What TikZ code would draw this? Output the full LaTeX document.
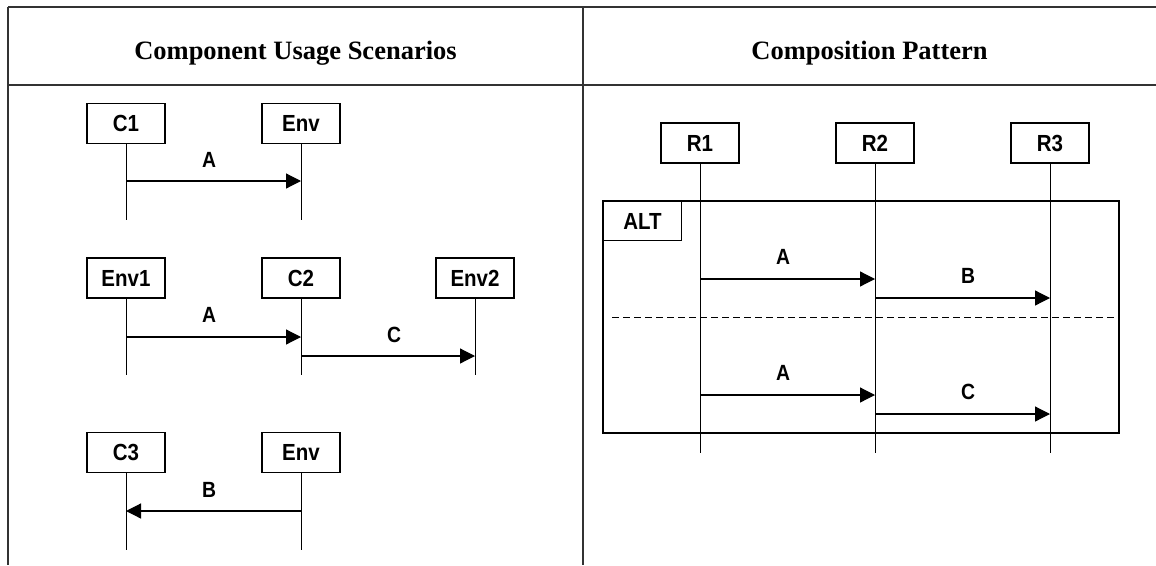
\documentclass[tikz,border=0pt]{standalone}
\usepackage{fontspec}
\setmainfont{Liberation Serif}
\newfontfamily\narrowfont[FakeStretch=0.88]{Liberation Sans}
\usetikzlibrary{arrows.meta}

\begin{document}
\begin{tikzpicture}[x=1pt, y=-1pt, >={Triangle[length=15pt, width=15pt]},
  rule/.style={black!80, line width=2pt},
  coltitle/.style={font=\fontsize{26.5}{28}\selectfont\bfseries, inner sep=0pt},
  box/.style={draw, line width=1.1pt, minimum width=78pt, minimum height=40pt,
    inner sep=0pt, font=\narrowfont\bfseries\fontsize{23.3}{25}\selectfont},
  lbl/.style={anchor=base, inner sep=0pt, font=\narrowfont\bfseries\fontsize{22}{24}\selectfont},
  life/.style={line width=0.9pt},
  msg/.style={->, line width=1.2pt}]
  \useasboundingbox (0,0) rectangle (1156,565);
  % table frame
  \draw[rule] (8,7) -- (1156,7);
  \draw[rule] (8,85) -- (1156,85);
  \draw[rule] (8,7) -- (8,565);
  \draw[rule] (583,7) -- (583,565);
  \node[coltitle, anchor=base] (tleft) at (295.5,59) {Component Usage Scenarios};
  \node[coltitle, anchor=base] (tright) at (869.5,59) {Composition Pattern};
  % scenario 1
  \node[box] (c1) at (126,123.5) {C1};
  \node[box] (env1) at (301,123.5) {Env};
  % scenario 2
  \node[box] (envA) at (126,278) {Env1};
  \node[box] (c2) at (301,278) {C2};
  \node[box] (envB) at (475,278) {Env2};
  % scenario 3
  \node[box] (c3) at (126,452.5) {C3};
  \node[box] (env3) at (301,452.5) {Env};
  % roles of the pattern
  \node[box] (r1) at (700,143) {R1};
  \node[box] (r2) at (875,143) {R2};
  \node[box] (r3) at (1050,143) {R3};
  % lifelines
  \foreach \n/\e in {c1/220, env1/220, envA/375, c2/375, envB/375,
                     c3/550, env3/550, r1/453, r2/453, r3/453}{
    \draw[life] (\n.south) -- (\n.south |- 0,\e);
  }
  % messages, left column
  \draw[msg] (c1 |- 0,181) -- (env1 |- 0,181);
  \node[lbl] (mA1) at (209,167) {A};
  \draw[msg] (envA |- 0,337) -- (c2 |- 0,337);
  \node[lbl] (mA2) at (209,322) {A};
  \draw[msg] (c2 |- 0,356) -- (envB |- 0,356);
  \node[lbl] (mC2) at (394,342) {C};
  \draw[msg] (env3 |- 0,511) -- (c3 |- 0,511);
  \node[lbl] (mB3) at (209,497) {B};
  % alt fragment
  \draw[line width=1.2pt] (603,201) rectangle (1119,433);
  \node[box, anchor=north west, minimum height=39pt] (alt) at (603,201) {ALT};
  \draw[line width=1pt, dash pattern=on 7pt off 4pt] (612,317) -- (1115,317);
  % messages, right column
  \draw[msg] (r1 |- 0,279) -- (r2 |- 0,279);
  \node[lbl] (rA1) at (783,264) {A};
  \draw[msg] (r2 |- 0,298) -- (r3 |- 0,298);
  \node[lbl] (rB) at (968,283) {B};
  \draw[msg] (r1 |- 0,395) -- (r2 |- 0,395);
  \node[lbl] (rA2) at (783,380) {A};
  \draw[msg] (r2 |- 0,414) -- (r3 |- 0,414);
  \node[lbl] (rC) at (968,399) {C};
\end{tikzpicture}
\end{document}
